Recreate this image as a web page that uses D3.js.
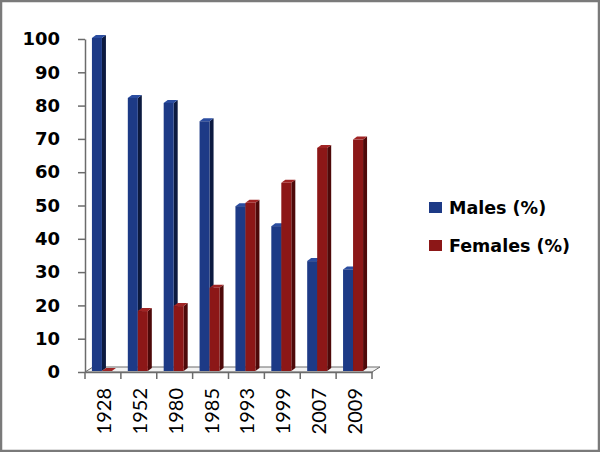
<!DOCTYPE html>
<html>
<head>
<meta charset="utf-8">
<script src="https://cdn.jsdelivr.net/npm/d3@7"></script>
<style>
  body { margin: 0; background: #fff; }
  svg { display: block; }
</style>
</head>
<body>
<svg id="canvas" width="600" height="452"></svg>
<script>
// chart data
const years = ['1928', '1952', '1980', '1985', '1993', '1999', '2007', '2009'];
const males = [100, 82, 80.5, 75, 49.5, 43.5, 33, 30.5];
const females = [0, 18, 19.5, 25, 50.5, 56.5, 67, 69.5];
const yTicks = [0, 10, 20, 30, 40, 50, 60, 70, 80, 90, 100];
const seriesNames = ['Males (%)', 'Females (%)'];

const colors = {
  m: { front: '#1d3a86', side: '#0c1a40', top: '#2b4da0' },
  f: { front: '#8c1717', side: '#4e0909', top: '#a02424' }
};

const svg = d3.select('#canvas');

// outer frame
svg.append('rect')
  .attr('x', 1).attr('y', 1)
  .attr('width', 598).attr('height', 450)
  .attr('fill', '#fff')
  .attr('stroke', '#7a7a7a')
  .attr('stroke-width', 2.5);

const x = d3.scaleBand().domain(years).range([85, 372]);
const y = d3.scaleLinear().domain([0, 100]).range([372, 39]);
const sub = d3.scaleBand().domain(['m', 'f']).range([0, 20]);

const dx = 4, dy = 3;   // depth of the 3d effect
const floorDx = 8, floorDy = 5;

// floor
const x0 = x.range()[0], x1 = x.range()[1], y0 = y(0);
svg.append('path')
  .attr('d', `M${x0},${y0} L${x0 + floorDx},${y0 - floorDy} L${x1 + floorDx},${y0 - floorDy} L${x1},${y0} Z`)
  .attr('fill', '#f2f2f2')
  .attr('stroke', '#6b6b6b')
  .attr('stroke-width', 1);

// y axis
const yAxis = svg.append('g')
  .attr('transform', `translate(${x0},0)`)
  .call(d3.axisLeft(y).tickValues(yTicks).tickSize(7).tickPadding(18).tickSizeOuter(0));
yAxis.select('.domain').attr('stroke', '#6b6b6b').attr('stroke-width', 1.5);
yAxis.selectAll('.tick line').attr('stroke', '#6b6b6b').attr('stroke-width', 1.5);
yAxis.selectAll('.tick text')
  .attr('font-family', 'DejaVu Sans, Verdana, sans-serif')
  .attr('font-weight', 'bold')
  .attr('font-size', 18)
  .attr('fill', '#000');

// x axis
const xAxis = svg.append('g')
  .attr('transform', `translate(0,${y0})`)
  .call(d3.axisBottom(x).tickSize(0).tickSizeOuter(0));
xAxis.select('.domain').attr('stroke', '#6b6b6b').attr('stroke-width', 1.5);
xAxis.selectAll('.tick text')
  .attr('font-family', 'Lato, sans-serif')
  .attr('font-size', 20)
  .attr('fill', '#000')
  .attr('text-anchor', 'end')
  .attr('dominant-baseline', 'central')
  .attr('transform', 'translate(0,15) rotate(-90)')
  .attr('x', -1)
  .attr('y', 0)
  .attr('dy', null);

// tick marks between categories
svg.append('g')
  .selectAll('line')
  .data(years.map((d) => x(d)).concat([x1]))
  .enter()
  .append('line')
  .attr('x1', (d) => d).attr('x2', (d) => d)
  .attr('y1', y0).attr('y2', y0 + 7)
  .attr('stroke', '#6b6b6b')
  .attr('stroke-width', 1.5);

// bars
const rows = [];
years.forEach((yr, i) => {
  rows.push({ year: yr, key: 'm', value: males[i] });
  rows.push({ year: yr, key: 'f', value: females[i] });
});

const bw = sub.bandwidth();
const offset = (x.bandwidth() - 20) / 2 - 1;
const base = y0 - 1;

const bars = svg.append('g')
  .selectAll('g')
  .data(rows)
  .enter()
  .append('g')
  .attr('transform', (d) => `translate(${x(d.year) + offset + sub(d.key)},0)`);

bars.append('path')
  .attr('d', (d) => {
    const t = y(d.value) - 1;
    return `M${bw},${t} L${bw + dx},${t - dy} L${bw + dx},${base - dy} L${bw},${base} Z`;
  })
  .attr('fill', (d) => colors[d.key].side);

bars.append('path')
  .attr('d', (d) => {
    const t = y(d.value) - 1;
    return `M0,${t} L${dx},${t - dy} L${bw + dx},${t - dy} L${bw},${t} Z`;
  })
  .attr('fill', (d) => colors[d.key].top);

bars.append('rect')
  .attr('x', 0)
  .attr('y', (d) => y(d.value) - 1)
  .attr('width', bw)
  .attr('height', (d) => base - (y(d.value) - 1))
  .attr('fill', (d) => colors[d.key].front);

// legend
const legend = svg.append('g')
  .selectAll('g')
  .data(seriesNames)
  .enter()
  .append('g')
  .attr('transform', (d, i) => `translate(429,${202 + i * 38})`);

legend.append('rect')
  .attr('width', 13)
  .attr('height', 11)
  .attr('fill', (d, i) => (i === 0 ? colors.m.front : colors.f.front));

legend.append('text')
  .attr('x', 20)
  .attr('y', 12)
  .attr('font-family', 'DejaVu Sans, Verdana, sans-serif')
  .attr('font-weight', 'bold')
  .attr('font-size', 17.5)
  .attr('fill', '#000')
  .text((d) => d);
</script>
</body>
</html>
